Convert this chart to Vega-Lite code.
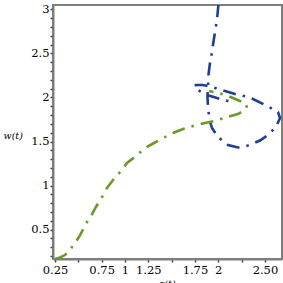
{
  "$schema": "https://vega.github.io/schema/vega-lite/v6.json",
  "width": 229,
  "height": 254,
  "autosize": "none",
  "padding": {"left": 53, "top": 5, "right": 1, "bottom": 24},
  "background": "white",
  "config": {
    "view": {"stroke": "#7f7f7f", "strokeWidth": 2},
    "axis": {
      "grid": false,
      "domainColor": "#7f7f7f",
      "domainWidth": 2,
      "tickColor": "#404040",
      "tickWidth": 1.5,
      "tickSize": 3,
      "labelFont": "DejaVu Serif",
      "labelFontSize": 11.5,
      "labelColor": "#000000",
      "titleFont": "DejaVu Serif",
      "titleFontStyle": "italic",
      "titleFontWeight": "normal",
      "titleFontSize": 9.5,
      "titleColor": "#000000"
    }
  },
  "data": {
    "values": [
      {"s": "a", "i": 1, "z": 2.002, "w": 3.06},
      {"s": "a", "i": 2, "z": 1.986, "w": 2.881},
      {"s": "a", "i": 3, "z": 1.965, "w": 2.744},
      {"s": "a", "i": 4, "z": 1.943, "w": 2.596},
      {"s": "a", "i": 5, "z": 1.927, "w": 2.483},
      {"s": "a", "i": 6, "z": 1.911, "w": 2.392},
      {"s": "a", "i": 7, "z": 1.895, "w": 2.256},
      {"s": "a", "i": 8, "z": 1.89, "w": 2.119},
      {"s": "a", "i": 9, "z": 1.884, "w": 2.017},
      {"s": "a", "i": 10, "z": 1.89, "w": 1.892},
      {"s": "a", "i": 11, "z": 1.906, "w": 1.744},
      {"s": "a", "i": 12, "z": 1.933, "w": 1.653},
      {"s": "a", "i": 13, "z": 1.997, "w": 1.551},
      {"s": "a", "i": 14, "z": 2.104, "w": 1.46},
      {"s": "a", "i": 15, "z": 2.211, "w": 1.432},
      {"s": "a", "i": 16, "z": 2.319, "w": 1.454},
      {"s": "a", "i": 17, "z": 2.447, "w": 1.511},
      {"s": "a", "i": 18, "z": 2.533, "w": 1.574},
      {"s": "a", "i": 19, "z": 2.619, "w": 1.665},
      {"s": "a", "i": 20, "z": 2.662, "w": 1.767},
      {"s": "a", "i": 21, "z": 2.64, "w": 1.835},
      {"s": "a", "i": 22, "z": 2.586, "w": 1.869},
      {"s": "a", "i": 23, "z": 2.501, "w": 1.915},
      {"s": "a", "i": 24, "z": 2.372, "w": 1.983},
      {"s": "a", "i": 25, "z": 2.276, "w": 2.017},
      {"s": "a", "i": 26, "z": 2.179, "w": 2.04},
      {"s": "a", "i": 27, "z": 2.04, "w": 2.085},
      {"s": "a", "i": 28, "z": 1.933, "w": 2.119},
      {"s": "a", "i": 29, "z": 1.836, "w": 2.142},
      {"s": "a", "i": 30, "z": 1.761, "w": 2.142},
      {"s": "a", "i": 31, "z": 1.74, "w": 2.119},
      {"s": "a", "i": 32, "z": 1.783, "w": 2.085},
      {"s": "a", "i": 33, "z": 1.879, "w": 2.028},
      {"s": "a", "i": 34, "z": 1.986, "w": 1.994},
      {"s": "a", "i": 35, "z": 2.104, "w": 1.96},
      {"s": "a", "i": 36, "z": 2.158, "w": 1.949},
      {"s": "b", "i": 1, "z": 0.25, "w": 0.165},
      {"s": "b", "i": 2, "z": 0.304, "w": 0.182},
      {"s": "b", "i": 3, "z": 0.357, "w": 0.21},
      {"s": "b", "i": 4, "z": 0.411, "w": 0.267},
      {"s": "b", "i": 5, "z": 0.454, "w": 0.335},
      {"s": "b", "i": 6, "z": 0.507, "w": 0.415},
      {"s": "b", "i": 7, "z": 0.593, "w": 0.585},
      {"s": "b", "i": 8, "z": 0.636, "w": 0.653},
      {"s": "b", "i": 9, "z": 0.689, "w": 0.756},
      {"s": "b", "i": 10, "z": 0.754, "w": 0.869},
      {"s": "b", "i": 11, "z": 0.807, "w": 0.971},
      {"s": "b", "i": 12, "z": 0.872, "w": 1.062},
      {"s": "b", "i": 13, "z": 0.957, "w": 1.165},
      {"s": "b", "i": 14, "z": 1.022, "w": 1.256},
      {"s": "b", "i": 15, "z": 1.118, "w": 1.335},
      {"s": "b", "i": 16, "z": 1.215, "w": 1.426},
      {"s": "b", "i": 17, "z": 1.311, "w": 1.483},
      {"s": "b", "i": 18, "z": 1.408, "w": 1.54},
      {"s": "b", "i": 19, "z": 1.515, "w": 1.596},
      {"s": "b", "i": 20, "z": 1.622, "w": 1.642},
      {"s": "b", "i": 21, "z": 1.729, "w": 1.676},
      {"s": "b", "i": 22, "z": 1.858, "w": 1.71},
      {"s": "b", "i": 23, "z": 1.965, "w": 1.733},
      {"s": "b", "i": 24, "z": 2.094, "w": 1.778},
      {"s": "b", "i": 25, "z": 2.211, "w": 1.812},
      {"s": "b", "i": 26, "z": 2.297, "w": 1.869},
      {"s": "b", "i": 27, "z": 2.308, "w": 1.915},
      {"s": "b", "i": 28, "z": 2.233, "w": 1.96},
      {"s": "b", "i": 29, "z": 2.094, "w": 2.023},
      {"s": "b", "i": 30, "z": 1.997, "w": 2.051},
      {"s": "b", "i": 31, "z": 1.901, "w": 2.074}
    ]
  },
  "mark": {
    "type": "line",
    "clip": true,
    "strokeWidth": 2.6,
    "strokeDash": [13, 7, 2.5, 7],
    "interpolate": "linear"
  },
  "encoding": {
    "x": {
      "field": "z",
      "type": "quantitative",
      "scale": {"domain": [0.2286, 2.683], "nice": false, "zero": false},
      "axis": {
        "title": "z(t)",
        "values": [0.25, 0.5, 0.75, 1, 1.25, 1.5, 1.75, 2, 2.25, 2.5],
        "format": ".4~g",
        "labelExpr": "datum.value == 0.5 || datum.value == 1.5 || datum.value == 2.25 ? '' : (datum.value == 2.5 ? '2.50' : datum.label)",
        "labelPadding": 2,
        "labelFlush": false,
        "labelOverlap": false,
        "titleX": 114,
        "titleY": 27,
        "titleBaseline": "alphabetic",
        "titleAlign": "center"
      }
    },
    "y": {
      "field": "w",
      "type": "quantitative",
      "scale": {"domain": [0.165, 3.051], "nice": false, "zero": false},
      "axis": {
        "title": "w(t)",
        "values": [0.2, 0.3, 0.4, 0.5, 0.6, 0.7, 0.8, 0.9, 1, 1.1, 1.2, 1.3, 1.4, 1.5, 1.6, 1.7, 1.8, 1.9, 2, 2.1, 2.2, 2.3, 2.4, 2.5, 2.6, 2.7, 2.8, 2.9, 3],
        "format": ".4~g",
        "labelExpr": "round(datum.value * 10) % 5 == 0 ? datum.label : ''",
        "labelPadding": 1,
        "labelFlush": false,
        "labelOverlap": false,
        "titleAngle": 0,
        "titleX": -50,
        "titleY": 130,
        "titleAlign": "left",
        "titleBaseline": "middle"
      }
    },
    "color": {
      "field": "s",
      "type": "nominal",
      "scale": {"domain": ["a", "b"], "range": ["#1f3f93", "#6a9a28"]},
      "legend": null
    },
    "order": {"field": "i", "type": "quantitative"}
  }
}
